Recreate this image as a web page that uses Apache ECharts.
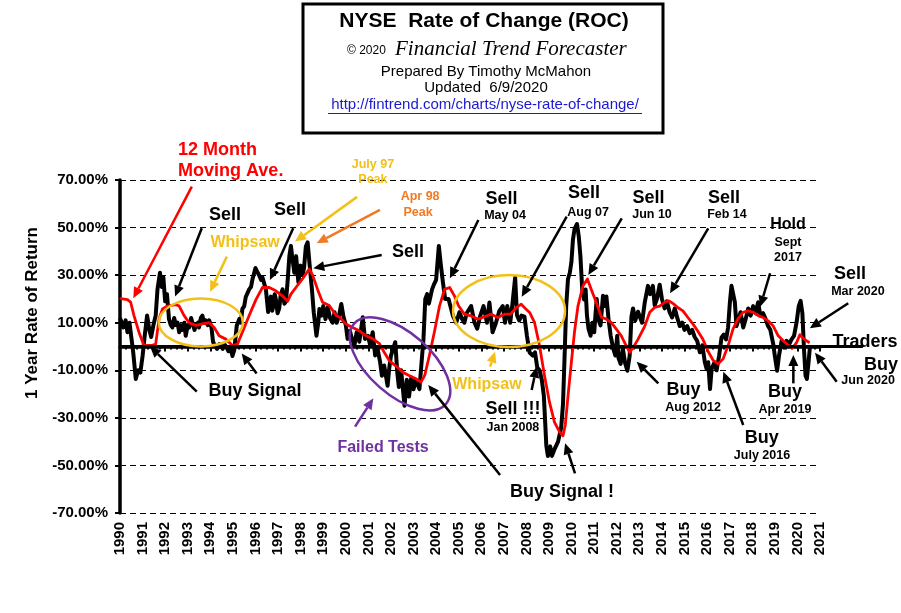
<!DOCTYPE html>
<html><head><meta charset="utf-8">
<script src="https://cdn.jsdelivr.net/npm/echarts@6/dist/echarts.min.js"></script>
<style>html,body{margin:0;padding:0;background:#fff}#c{width:901px;height:613px}</style>
</head><body><div id="c"></div>
<script>
// ---- data: [year, 1-year rate of change %] ----
const rocData = [
[1990.0,12],[1990.05,12],[1990.15,8],[1990.25,11],[1990.33,6],[1990.42,10],[1990.5,4],[1990.58,-2],[1990.7,-13.7],[1990.8,-10],[1990.9,-11],[1991.0,-4],[1991.1,5],[1991.2,13],[1991.3,7],[1991.38,4],[1991.48,9],[1991.58,13],[1991.66,24],[1991.77,31],[1991.85,25],[1991.92,29],[1992.0,19],[1992.08,22],[1992.17,11.5],[1992.25,9],[1992.32,8],[1992.4,12],[1992.47,9],[1992.55,10],[1992.62,6],[1992.7,9],[1992.76,7],[1992.85,10],[1992.91,4.5],[1993.0,9],[1993.06,8],[1993.15,12],[1993.21,10],[1993.3,7],[1993.36,9],[1993.45,10],[1993.5,8],[1993.58,12],[1993.65,13],[1993.72,10],[1993.8,11],[1993.88,9],[1993.95,11],[1994.05,8],[1994.12,2],[1994.2,0.5],[1994.3,-1],[1994.4,1],[1994.47,0.5],[1994.55,-1],[1994.62,1],[1994.7,0],[1994.8,-2],[1994.9,-1],[1994.98,-4],[1995.06,-1.5],[1995.17,8.7],[1995.28,11.5],[1995.35,10],[1995.42,15.8],[1995.5,17],[1995.57,20.8],[1995.65,20],[1995.72,24],[1995.8,25],[1995.87,28.4],[1996.0,33],[1996.1,31],[1996.16,30],[1996.25,28],[1996.31,29],[1996.4,26],[1996.46,24],[1996.56,14.5],[1996.62,19],[1996.68,21],[1996.74,15],[1996.79,17],[1996.85,22],[1996.9,20],[1996.98,14],[1997.05,16],[1997.12,22],[1997.2,24],[1997.28,18],[1997.35,19],[1997.42,27],[1997.5,38],[1997.57,42.3],[1997.65,36],[1997.72,31],[1997.8,38],[1997.9,27],[1998.0,34],[1998.08,30],[1998.15,33],[1998.23,42],[1998.31,43.8],[1998.4,34],[1998.5,24],[1998.58,14.4],[1998.7,4.5],[1998.78,10],[1998.83,15.8],[1998.92,13],[1999.0,17],[1999.1,11.5],[1999.2,16.5],[1999.3,12],[1999.42,10],[1999.5,14.4],[1999.6,10],[1999.7,13],[1999.8,17.9],[1999.9,12.4],[2000.0,9],[2000.08,3.2],[2000.18,6.6],[2000.25,4],[2000.38,0.3],[2000.48,6],[2000.6,2],[2000.75,12.3],[2000.85,3.2],[2000.98,4.5],[2001.08,0.5],[2001.19,6],[2001.3,-3.8],[2001.4,-0.7],[2001.52,-6.6],[2001.6,-12.3],[2001.7,-8],[2001.85,-16.5],[2001.92,-9.5],[2002.0,-3.8],[2002.19,1.8],[2002.28,-11],[2002.35,-17],[2002.45,-10],[2002.6,-24.9],[2002.7,-14],[2002.8,-21],[2002.9,-13],[2003.0,-18],[2003.1,-14],[2003.26,-17.9],[2003.35,-7.3],[2003.44,3.2],[2003.52,20],[2003.6,22],[2003.68,18],[2003.82,24],[2003.9,26],[2004.0,28],[2004.12,42.3],[2004.2,35],[2004.3,27],[2004.4,20],[2004.55,20],[2004.74,13],[2004.89,10],[2005.03,14.4],[2005.15,11.6],
[2005.25,10],[2005.35,14],[2005.55,17],[2005.7,10],[2005.82,7.5],[2005.95,12.8],[2006.1,17],[2006.25,10],[2006.36,18.5],[2006.5,6],[2006.65,10],[2006.8,15],[2006.95,17],[2007.05,10],[2007.15,17],[2007.28,10],[2007.38,18],[2007.5,29],[2007.58,13.2],[2007.68,11],[2007.78,13],[2007.91,12.6],[2008.02,4.5],[2008.14,-2.5],[2008.28,-3.8],[2008.38,-2.5],[2008.48,-8.9],[2008.58,-10],[2008.68,-14],[2008.77,-20.7],[2008.83,-32],[2008.88,-41.7],[2008.95,-46],[2009.05,-42],[2009.13,-46],[2009.25,-43],[2009.4,-40],[2009.54,-34],[2009.62,-24],[2009.69,-3.8],[2009.76,17],[2009.84,28.4],[2009.92,31],[2009.99,35.4],[2010.06,45],[2010.13,49.4],[2010.24,51.5],[2010.32,46],[2010.39,38],[2010.47,24],[2010.55,19.8],[2010.62,24],[2010.68,13],[2010.75,7.4],[2010.84,4.5],[2010.92,10],[2011.0,6],[2011.11,20],[2011.2,11],[2011.28,8.9],[2011.39,21.3],[2011.46,17],[2011.54,21],[2011.64,11],[2011.73,4.5],[2011.84,-0.8],[2011.94,-3.8],[2012.02,4.5],[2012.08,-5],[2012.17,-7.3],[2012.27,-1],[2012.37,-7],[2012.47,-10.2],[2012.57,-4],[2012.65,12.6],[2012.72,16],[2012.82,11],[2012.94,14.6],
[2013.02,14.4],[2013.12,10],[2013.24,18.6],[2013.38,25.5],[2013.48,22],[2013.6,25.5],[2013.68,17.3],[2013.78,20],[2013.9,26],[2014.0,20],[2014.12,16],[2014.22,19],[2014.34,14.4],[2014.45,12.2],[2014.57,16],[2014.68,12],[2014.79,8.6],[2014.9,10],[2015.0,7],[2015.12,8.6],[2015.23,5.6],[2015.34,7],[2015.45,4],[2015.56,2.4],[2015.68,-2.4],[2015.79,0.5],[2015.9,-6.6],[2015.98,-9.5],[2016.05,-6.6],[2016.13,-17.9],[2016.2,-9.5],[2016.31,-7],[2016.42,-10],[2016.53,-4],[2016.64,3.8],[2016.74,5],[2016.84,3],[2016.93,8],[2017.01,18.6],[2017.08,25.5],[2017.15,26.2],[2017.23,18.6],[2017.3,8.6],[2017.38,11],[2017.48,14.4],[2017.6,8],[2017.71,11.6],[2017.82,16],[2017.93,13],[2018.04,17],[2018.15,14],[2018.26,18.6],[2018.36,13],[2018.48,14],[2018.59,11.6],[2018.7,8.6],[2018.8,7],[2018.93,1],[2019.0,-4],[2019.1,-10.2],[2019.19,-3.5],[2019.3,2.4],[2019.41,-0.5],[2019.52,2.4],[2019.64,1],[2019.74,3],[2019.85,4.5],[2019.96,10],[2020.06,17],[2020.14,19.2],[2020.22,14],[2020.29,-1],[2020.36,-12.3],[2020.42,-13.6],[2020.49,-7],[2020.56,0.5]
];
// 12 month moving average
const maData = [
[1990.0,20.4],[1990.1,20],[1990.33,19.7],[1990.47,18.7],[1990.62,13],[1990.84,6],[1991.06,0.4],[1991.25,0.5],[1991.43,0.5],[1991.58,1],[1991.73,11.6],[1991.88,15.8],[1992.1,17],[1992.47,17.6],[1992.62,17],[1992.84,13],[1993.06,10],[1993.36,8.9],[1993.65,9.5],[1993.95,10],[1994.17,8],[1994.39,4.5],[1994.69,3.1],[1994.98,0.4],[1995.2,1],[1995.42,6],[1995.72,13],[1996.02,19.7],[1996.31,24.8],[1996.61,24.8],[1996.9,23.4],[1997.2,21.2],[1997.42,19],[1997.57,22],[1997.79,24.8],[1998.08,28.4],[1998.38,32.6],[1998.53,30],[1998.75,24],[1998.97,18.6],[1999.27,17.2],[1999.57,13],[1999.71,12.4],[2000.0,9.5],[2000.3,8],[2000.6,6.6],[2000.9,4.5],[2001.2,3.2],[2001.49,1.2],[2001.7,-2.4],[2001.93,-6],[2002.2,-8],[2002.52,-10.8],[2002.8,-12.2],[2003.11,-13.6],[2003.33,-15],[2003.5,-12],[2003.7,-3.8],[2003.92,6],[2004.15,17],[2004.37,24],[2004.6,24.8],[2004.81,21.3],[2005.0,17],[2005.25,13.6],
[2005.55,12.9],[2005.85,11.5],[2006.15,12.5],[2006.44,13.6],[2006.73,12.2],[2007.03,13.6],[2007.3,13.6],[2007.55,16.3],[2007.77,17.8],[2007.95,16],[2008.14,14.3],[2008.36,10],[2008.58,0.3],[2008.8,-12.3],[2009.02,-23.4],[2009.24,-31.8],[2009.47,-36],[2009.62,-37.5],[2009.72,-33],[2009.87,-17.9],[2009.99,-6.6],[2010.13,6.3],[2010.28,17],[2010.5,25.4],[2010.7,28.4],[2010.87,24],[2011.09,18.6],[2011.32,12.3],[2011.54,11.5],[2011.76,10],[2011.98,7.3],[2012.2,4.5],[2012.42,0.3],[2012.57,-2.4],[2012.72,-0.5],[2012.94,3],[2013.24,8.6],[2013.46,14.4],[2013.68,16.4],[2013.9,17],[2014.12,18.6],[2014.31,19.2],[2014.5,18],[2014.7,16.4],[2014.93,15],[2015.15,12.2],[2015.37,9.5],[2015.6,6.3],[2015.82,2.9],[2016.04,-2],[2016.26,-5.7],[2016.49,-7.3],[2016.71,-5.2],[2016.93,0.4],[2017.15,7.4],[2017.37,11.6],[2017.59,14.4],[2017.82,15],[2018.04,14.4],[2018.26,13],[2018.48,12.2],[2018.7,10.8],[2018.93,8.6],[2019.15,4.5],[2019.37,2.4],[2019.59,0.5],[2019.79,-0.5],[2019.96,1.6],[2020.11,5],[2020.25,3.5],[2020.4,2.4],[2020.54,1.6]
];
const xRange = [1990, 2021];
const yRange = [-70, 70];
const yStep = 20;

// ---- annotations (anchored in data coordinates) ----
const annTexts = [
 ['12 Month',[1992.57,82.6],'big','red','left'],
 ['Moving Ave.',[1992.57,73.8],'big','red','left'],
 ['Sell',[1994.65,55.3],'big'],
 ['Whipsaw',[1995.54,43.5],'mid','yellow'],
 ['Buy Signal',[1995.98,-18.7],'big'],
 ['Sell',[1997.53,57.4],'big'],
 ['July 97',[2001.2,76.3],'small','yellow'],
 ['Peak',[2001.2,70.0],'small','yellow'],
 ['Apr 98',[2003.29,62.9],'small','orange'],
 ['Peak',[2003.2,56.5],'small','orange'],
 ['Sell',[2002.75,39.7],'big'],
 ['Failed Tests',[2001.65,-42.7],'mid','purple'],
 ['Buy Signal !',[2009.57,-61.1],'big'],
 ['Sell',[2006.9,61.9],'big'],['May 04',[2007.05,54.9],'small'],
 ['Whipsaw',[2006.25,-16.2],'mid','yellow'],
 ['Sell !!!',[2007.4,-26.4],'big'],['Jan 2008',[2007.4,-34.2],'small'],
 ['Sell',[2010.55,64.5],'big'],['Aug 07',[2010.73,56.5],'small'],
 ['Sell',[2013.4,62.3],'big'],['Jun 10',[2013.56,55.3],'small'],
 ['Sell',[2016.75,62.4],'big'],['Feb 14',[2016.88,55.3],'small'],
 ['Hold',[2019.58,51.1],'mid'],['Sept',[2019.58,43.9],'small'],['2017',[2019.58,37.2],'small'],
 ['Sell',[2022.33,30.5],'big'],['Mar 2020',[2022.68,22.9],'small'],
 ['Traders',[2022.99,1.9],'big'],['Buy',[2023.7,-7.8],'big'],['Jun 2020',[2023.13,-14.5],'small'],
 ['Buy',[2014.95,-18.3],'big'],['Aug 2012',[2015.38,-25.8],'small'],
 ['Buy',[2019.45,-19.1],'big'],['Apr 2019',[2019.45,-26.7],'small'],
 ['Buy',[2018.42,-38.6],'big'],['July 2016',[2018.43,-46.0],'small']
];
const annArrows = [
 [[1993.18,67.2],[1990.59,20.3],'red'],
 [[1993.62,49.7],[1992.44,21.0]],
 [[1994.73,37.8],[1993.99,23.0],'yellow'],
 [[1993.40,-19.0],[1991.33,0]],
 [[1996.05,-11.3],[1995.39,-2.9]],
 [[1997.67,49.7],[1996.64,28.0]],
 [[2000.50,62.9],[1997.75,44.1],'yellow'],
 [[2001.51,57.4],[1998.71,43.4],'orange'],
 [[2001.59,38.5],[1998.56,32.9]],
 [[2000.41,-33.7],[2001.22,-21.8],'purple'],
 [[2006.83,-54.0],[2003.65,-16.2]],
 [[2010.15,-53.3],[2009.71,-40.7]],
 [[2005.87,53.2],[2004.61,28.7]],
 [[2006.39,-8.5],[2006.61,-2.2],'yellow'],
 [[2008.23,-18.3],[2008.45,-8.5]],
 [[2009.78,54.6],[2007.79,20.9]],
 [[2012.22,53.9],[2010.74,30.1]],
 [[2016.05,49.7],[2014.36,22.4]],
 [[2018.79,30.8],[2018.35,16.7]],
 [[2022.25,18.2],[2020.55,7.7]],
 [[2021.74,-14.8],[2020.78,-2.6]],
 [[2013.84,-15.5],[2012.88,-6.4]],
 [[2019.82,-15.5],[2019.82,-3.6]],
 [[2017.60,-33.0],[2016.72,-10.6]]
];
const annEllipses = [
 [[1993.58,10.1],'yellow',42,24,0],
 [[2007.23,14.9],'yellow',56,36,0],
 [[2002.40,-7.3],'purple',61,31,-0.72]
];

const COLORS = {black:'#000', red:'#ff0000', yellow:'#f2c018', orange:'#f07a24', purple:'#7030a0'};
const SIZES = {big:18, mid:16, small:12.5};
const FONT = '"Liberation Sans", Arial, sans-serif';

const chart = echarts.init(document.getElementById('c'));
chart.setOption({
  animation:false,
  backgroundColor:'#fff',
  grid:{left:120, right:81, top:180, bottom:100, containLabel:false},
  xAxis:{type:'value', min:xRange[0], max:xRange[1], interval:1,
    axisLine:{lineStyle:{color:'#000', width:3.5}},
    axisTick:{show:true, length:5, lineStyle:{color:'#000', width:2}},
    minorTick:{show:true, splitNumber:4, length:3, lineStyle:{color:'#000', width:2}},
    splitLine:{show:false},
    axisLabel:{rotate:90, margin:9, color:'#000', fontFamily:FONT, fontWeight:'bold', fontSize:15, formatter:v=>String(v)}
  },
  yAxis:{type:'value', min:yRange[0], max:yRange[1], interval:yStep,
    axisLine:{show:true, lineStyle:{color:'#000', width:3.5}},
    axisTick:{show:true, length:5, lineStyle:{color:'#000', width:2}},
    splitLine:{show:true, lineStyle:{color:'#000', width:1, type:[6,4]}},
    axisLabel:{margin:12, color:'#000', fontFamily:FONT, fontWeight:'bold', fontSize:15, formatter:v=>v.toFixed(2)+'%'}
  },
  series:[
    {type:'line', data:rocData, showSymbol:false, lineStyle:{color:'#000', width:4, join:'round'}, z:3},
    {type:'line', data:maData, showSymbol:false, lineStyle:{color:'#ff0000', width:2.8, join:'round'}, z:4}
  ]
});

const px = p => chart.convertToPixel({gridIndex:0}, p);
const g = [];
// zero line (extends past plot to the right)
(function(){
  const a = px([xRange[0],0]), b = px([2022.9,0]);
  g.push({type:'line', shape:{x1:a[0],y1:a[1],x2:b[0],y2:b[1]}, style:{stroke:'#000', lineWidth:3}, z:5});
})();
annEllipses.forEach(([c,col,rx,ry,rot])=>{
  const p = px(c);
  g.push({type:'ellipse', x:p[0], y:p[1], rotation:rot, shape:{cx:0,cy:0,rx:rx,ry:ry}, style:{fill:'none', stroke:COLORS[col], lineWidth:2.5}, z:20});
});
annArrows.forEach(([a,b,col])=>{
  const color = COLORS[col||'black'];
  const p1=px(a), p2=px(b);
  const dx=p2[0]-p1[0], dy=p2[1]-p1[1], L=Math.hypot(dx,dy), ux=dx/L, uy=dy/L;
  const hl=11, hw=5;
  const bx=p2[0]-ux*hl, by=p2[1]-uy*hl;
  g.push({type:'line', shape:{x1:p1[0],y1:p1[1],x2:bx,y2:by}, style:{stroke:color,lineWidth:2.5}, z:21});
  g.push({type:'polygon', shape:{points:[[p2[0],p2[1]],[bx-uy*hw,by+ux*hw],[bx+uy*hw,by-ux*hw]]}, style:{fill:color}, z:21});
});
annTexts.forEach(([t,pos,sz,col,al])=>{
  const p = px(pos);
  g.push({type:'text', x:p[0], y:p[1], style:{text:t, fill:COLORS[col||'black'], font:'bold '+SIZES[sz]+'px '+FONT, align:al||'center', verticalAlign:'middle'}, z:22});
});
// y axis name
g.push({type:'text', x:32, y:313, rotation:Math.PI/2, style:{text:'1 Year Rate of Return', fill:'#000', font:'bold 17px '+FONT, align:'center', verticalAlign:'middle'}, z:22});
// title box
g.push({type:'rect', shape:{x:303,y:4,width:360,height:129}, style:{fill:'#fff', stroke:'#000', lineWidth:3}, z:30});
g.push({type:'text', x:484, y:21, style:{text:'NYSE  Rate of Change (ROC)', fill:'#000', font:'bold 21px '+FONT, align:'center', verticalAlign:'middle'}, z:31});
g.push({type:'text', x:347, y:51, style:{text:'\u00a9 2020', fill:'#000', font:'12px '+FONT, align:'left', verticalAlign:'middle'}, z:31});
g.push({type:'text', x:395, y:49, style:{text:'Financial Trend Forecaster', fill:'#000', font:'italic 21px "Liberation Serif", "DejaVu Serif", serif', align:'left', verticalAlign:'middle'}, z:31});
g.push({type:'text', x:486, y:72, style:{text:'Prepared By Timothy McMahon', fill:'#000', font:'15px '+FONT, align:'center', verticalAlign:'middle'}, z:31});
g.push({type:'text', x:486, y:88, style:{text:'Updated  6/9/2020', fill:'#000', font:'15px '+FONT, align:'center', verticalAlign:'middle'}, z:31});
g.push({type:'text', x:485, y:105, style:{text:'http://fintrend.com/charts/nyse-rate-of-change/', fill:'#1a1acc', font:'15px '+FONT, align:'center', verticalAlign:'middle'}, z:31});
g.push({type:'line', shape:{x1:328,y1:113.5,x2:642,y2:113.5}, style:{stroke:'#1a1acc', lineWidth:1}, z:31});
chart.setOption({graphic:g});
</script>
</body></html>
